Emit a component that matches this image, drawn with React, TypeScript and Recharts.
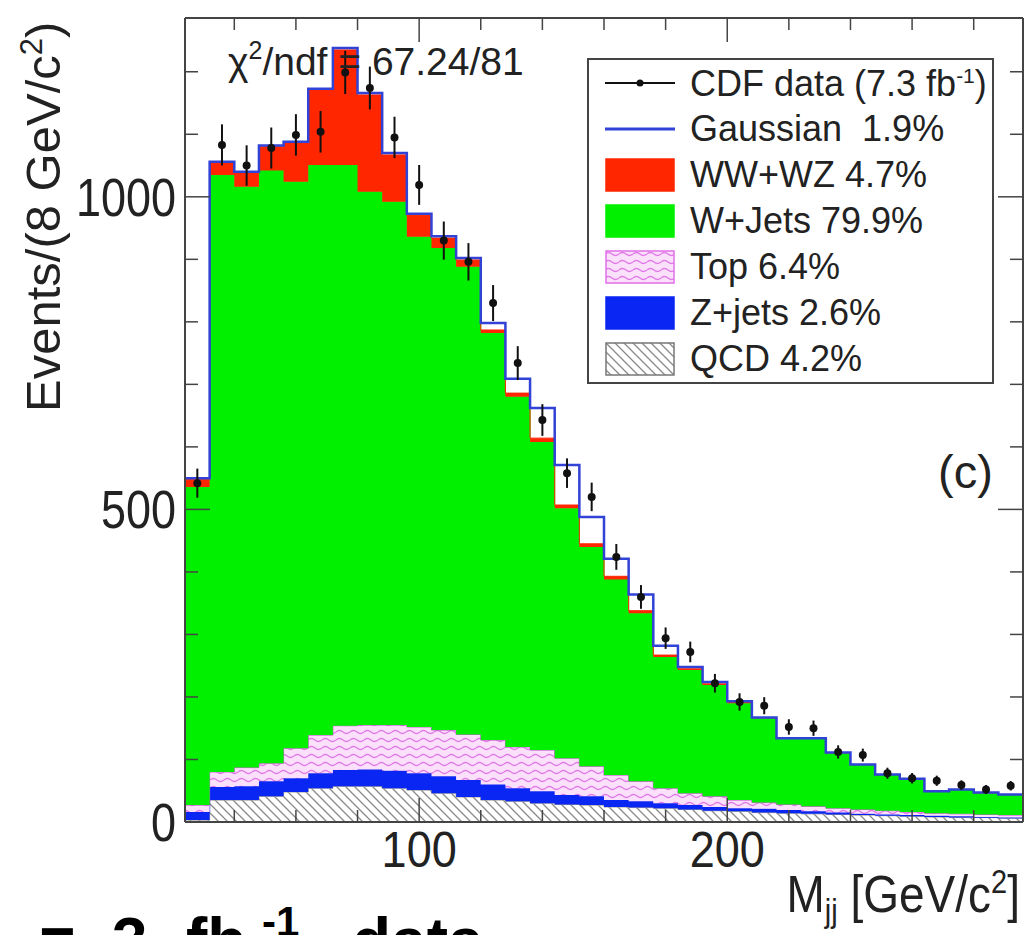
import React from "react";
import { ComposedChart, Area, Line, Scatter, ErrorBar, XAxis, YAxis } from "recharts";

const FONT = "'Liberation Sans', Arial, Helvetica, sans-serif";

// bin edges in GeV/c^2 (8 GeV bins)
const binEdges = [24, 32, 40, 48, 56, 64, 72, 80, 88, 96, 104, 112, 120, 128, 136, 144, 152, 160, 168, 176, 184, 192, 200, 208, 216, 224, 232, 240, 248, 256, 264, 272, 280, 288, 296];

// stacked backgrounds, bottom to top
const qcd = [3, 35, 35, 41, 48, 54, 57, 57, 54, 51, 46, 40, 35, 33, 30, 28, 27, 24, 23, 22, 20, 18, 17, 15, 14, 13, 12, 11, 10, 9, 8, 7, 7, 6];
const zJets = [13, 21, 22, 24, 22, 24, 26, 27, 28, 27, 27, 27, 25, 21, 19, 15, 14, 11, 10, 8, 7, 6, 5, 6, 5, 4, 3, 2, 2, 2, 2, 2, 1, 1];
const top = [11, 24, 30, 29, 48, 61, 71, 71, 73, 74, 74, 73, 71, 66, 66, 59, 48, 40, 32, 24, 19, 17, 13, 10, 9, 8, 7, 7, 6, 5, 4, 4, 4, 4];
const wJets = [509, 955, 929, 948, 906, 912, 897, 853, 837, 784, 771, 748, 651, 560, 493, 400, 351, 313, 269, 210, 197, 178, 155, 135, 105, 108, 88, 71, 57, 52, 34, 38, 34, 32];
const dibosons = [12, 19, 22, 38, 62, 120, 184, 155, 75, 34, 16, 11, 5, 6, 6, 5, 5, 5, 4, 3, 2, 2, 2, 1, 1, 1, 1, 1, 1, 1, 1, 1, 1, 1];
const gaussian = [2, 2, 2, 2, 2, 2, 3, 3, 3, 3, 3, 3, 11, 23, 48, 64, 43, 28, 26, 15, 3, 3, 1, 0, 0, 0, 0, 0, 0, 0, 0, 0, 0, 0];

// CDF data, events per bin
const cdfData = [542, 1083, 1050, 1078, 1099, 1104, 1199, 1174, 1095, 1019, 930, 896, 830, 734, 643, 558, 520, 424, 360, 294, 272, 222, 192, 186, 152, 150, 112, 107, 78, 70, 66, 59, 52, 58];

const xTicks = [40, 60, 80, 100, 120, 140, 160, 180, 200, 220, 240, 260, 280];
const xLabels = [100, 200];
const yTicks = [0, 100, 200, 300, 400, 500, 600, 700, 800, 900, 1000, 1100, 1200];
const yLabels = [0, 500, 1000];

const legendItems = [
  { key: "data", label: "CDF data (7.3 fb", sup: "-1", tail: ")" },
  { key: "gauss", label: "Gaussian  1.9%" },
  { key: "ww", label: "WW+WZ 4.7%" },
  { key: "wjets", label: "W+Jets 79.9%" },
  { key: "top", label: "Top 6.4%" },
  { key: "zjets", label: "Z+jets 2.6%" },
  { key: "qcd", label: "QCD 4.2%" },
];

const COLORS = {
  ww: "#ff2600",
  wjets: "#00f000",
  zjets: "#0a26f2",
  gauss: "#3142d6",
};

// last row repeats the last bin so the steps reach the right edge
const histRows = binEdges.map((x, i) => {
  const k = Math.min(i, qcd.length - 1);
  return {
    x,
    qcd: qcd[k],
    zJets: zJets[k],
    top: top[k],
    wJets: wJets[k],
    dibosons: dibosons[k],
    total: qcd[k] + zJets[k] + top[k] + wJets[k] + dibosons[k] + gaussian[k],
  };
});

const dataRows = cdfData.map((y, i) => ({ x: binEdges[i] + 4, y, err: Math.sqrt(y) }));

const AXIS = "#444";
const LABEL_SIZE = 45;

function BottomTick(props: any) {
  const { x, y, payload } = props;
  const major = xLabels.includes(payload.value);
  return (
    <g>
      <line x1={x} x2={x} y1={y} y2={y - (major ? 24 : 12)} stroke={AXIS} strokeWidth={1.5} />
      {major && (
        <text
          transform={`translate(${x},${y + 45}) scale(1,1.1)`}
          textAnchor="middle"
          fontSize={LABEL_SIZE}
          fontFamily={FONT}
          fill="#222"
        >
          {payload.value}
        </text>
      )}
    </g>
  );
}

function TopTick(props: any) {
  const { x, y, payload } = props;
  const major = xLabels.includes(payload.value);
  return <line x1={x} x2={x} y1={y} y2={y + (major ? 24 : 12)} stroke={AXIS} strokeWidth={1.5} />;
}

function LeftTick(props: any) {
  const { x, y, payload } = props;
  const major = yLabels.includes(payload.value);
  return (
    <g>
      <line x1={x} x2={x + (major ? 25 : 13)} y1={y} y2={y} stroke={AXIS} strokeWidth={1.5} />
      {major && (
        <text
          transform={`translate(${x - 9},${y + 19}) scale(1,1.2)`}
          textAnchor="end"
          fontSize={LABEL_SIZE}
          fontFamily={FONT}
          fill="#222"
        >
          {payload.value}
        </text>
      )}
    </g>
  );
}

function RightTick(props: any) {
  const { x, y, payload } = props;
  const major = yLabels.includes(payload.value);
  return <line x1={x} x2={x - (major ? 25 : 13)} y1={y} y2={y} stroke={AXIS} strokeWidth={1.5} />;
}

function Swatch({ kind }: { kind: string }) {
  if (kind === "data") {
    return (
      <svg width={70} height={34}>
        <line x1={0} x2={70} y1={17} y2={17} stroke="#111" strokeWidth={2} />
        <circle cx={35} cy={17} r={3.5} fill="#111" />
      </svg>
    );
  }
  if (kind === "gauss") {
    return (
      <svg width={70} height={34}>
        <line x1={0} x2={70} y1={17} y2={17} stroke={COLORS.gauss} strokeWidth={3} />
      </svg>
    );
  }
  const fill =
    kind === "ww" ? COLORS.ww : kind === "wjets" ? COLORS.wjets : kind === "zjets" ? COLORS.zjets : kind === "top" ? "url(#topWave)" : "url(#qcdHatch)";
  const stroke = kind === "top" ? "#e070e8" : kind === "qcd" ? "#777" : fill;
  return (
    <svg width={70} height={34}>
      <rect x={1} y={1} width={68} height={32} fill={fill} stroke={stroke} strokeWidth={1.5} />
    </svg>
  );
}

export default function App() {
  return (
    <div style={{ position: "absolute", left: 0, top: 0, width: 1027, height: 935, background: "#fff", overflow: "hidden" }}>
      <ComposedChart
        width={1027}
        height={935}
        data={histRows}
        margin={{ top: 0, right: 0, bottom: 0, left: 0 }}
      >
        <defs>
          <pattern id="qcdHatch" patternUnits="userSpaceOnUse" width="9" height="9">
            <rect width="9" height="9" fill="#fff" />
            <path d="M-2,-2 L11,11 M-2,7 L2,11 M7,-2 L11,2" stroke="#8a8a8a" strokeWidth="1.3" />
          </pattern>
          <pattern id="topWave" patternUnits="userSpaceOnUse" width="14" height="8">
            <rect width="14" height="8" fill="#fbe0fb" />
            <path d="M0,4 Q3.5,1 7,4 T14,4" fill="none" stroke="#e27ae8" strokeWidth="1.3" />
          </pattern>
        </defs>

        <XAxis
          xAxisId="bottom"
          dataKey="x"
          type="number"
          domain={[24, 296]}
          allowDataOverflow
          ticks={xTicks}
          interval={0}
          height={113}
          tickSize={0}
          tickMargin={0}
          tickLine={false}
          tick={<BottomTick />}
          axisLine={{ stroke: AXIS, strokeWidth: 2 }}
        />
        <XAxis
          xAxisId="top"
          orientation="top"
          dataKey="x"
          type="number"
          domain={[24, 296]}
          allowDataOverflow
          ticks={xTicks}
          interval={0}
          height={18}
          tickSize={0}
          tickMargin={0}
          tickLine={false}
          tick={<TopTick />}
          axisLine={{ stroke: AXIS, strokeWidth: 2 }}
        />
        <YAxis
          yAxisId="left"
          type="number"
          domain={[0, 1286]}
          allowDataOverflow
          ticks={yTicks}
          interval={0}
          width={185}
          tickSize={0}
          tickMargin={0}
          tickLine={false}
          tick={<LeftTick />}
          axisLine={{ stroke: AXIS, strokeWidth: 2 }}
        />
        <YAxis
          yAxisId="right"
          orientation="right"
          type="number"
          domain={[0, 1286]}
          allowDataOverflow
          ticks={yTicks}
          interval={0}
          width={4}
          tickSize={0}
          tickMargin={0}
          tickLine={false}
          tick={<RightTick />}
          axisLine={{ stroke: AXIS, strokeWidth: 2 }}
        />

        <Area xAxisId="bottom" yAxisId="left" type="stepAfter" dataKey="qcd" stackId="bg" fill="url(#qcdHatch)" fillOpacity={1} stroke="#999" strokeWidth={1} isAnimationActive={false} />
        <Area xAxisId="bottom" yAxisId="left" type="stepAfter" dataKey="zJets" stackId="bg" fill={COLORS.zjets} fillOpacity={1} stroke={COLORS.zjets} strokeWidth={1} isAnimationActive={false} />
        <Area xAxisId="bottom" yAxisId="left" type="stepAfter" dataKey="top" stackId="bg" fill="url(#topWave)" fillOpacity={1} stroke="#c85ad0" strokeWidth={1} isAnimationActive={false} />
        <Area xAxisId="bottom" yAxisId="left" type="stepAfter" dataKey="wJets" stackId="bg" fill={COLORS.wjets} fillOpacity={1} stroke={COLORS.wjets} strokeWidth={1} isAnimationActive={false} />
        <Area xAxisId="bottom" yAxisId="left" type="stepAfter" dataKey="dibosons" stackId="bg" fill={COLORS.ww} fillOpacity={1} stroke={COLORS.ww} strokeWidth={1} isAnimationActive={false} />
        <Line xAxisId="bottom" yAxisId="left" type="stepAfter" dataKey="total" stroke={COLORS.gauss} strokeWidth={2.5} dot={false} isAnimationActive={false} />
        <Scatter
          xAxisId="bottom"
          yAxisId="left"
          data={dataRows}
          dataKey="y"
          isAnimationActive={false}
          shape={(p: any) => <circle cx={p.cx} cy={p.cy} r={4} fill="#111" />}
        >
          <ErrorBar dataKey="err" direction="y" width={0} stroke="#111" strokeWidth={2} isAnimationActive={false} />
        </Scatter>
      </ComposedChart>

      {/* annotations drawn over the plot */}
      <svg width={1027} height={935} style={{ position: "absolute", left: 0, top: 0, pointerEvents: "none" }}>
        <text x={228} y={75} fontSize={39} fontFamily={FONT} fill="#222">
          χ<tspan dy={-16} fontSize={25}>2</tspan>
          <tspan dy={16}>/ndf = 67.24/81</tspan>
        </text>
        <text x={938} y={488} fontSize={47} fontFamily={FONT} fill="#222">(c)</text>
        <text transform="translate(60,412) rotate(-90)" fontSize={49} fontFamily={FONT} fill="#222">
          Events/(8 GeV/c<tspan dy={-18} fontSize={31}>2</tspan>
          <tspan dy={18}>)</tspan>
        </text>
        <text transform="translate(1020,912) scale(1,1.12)" textAnchor="end" fontSize={46} fontFamily={FONT} fill="#222">
          M<tspan dy={9} fontSize={29}>jj</tspan>
          <tspan dy={-9}> [GeV/c</tspan>
          <tspan dy={-17} fontSize={29}>2</tspan>
          <tspan dy={17}>]</tspan>
        </text>
        {/* next slide line, mostly below the picture's edge */}
        <g fontFamily={FONT} fontWeight="bold" fill="#000">
          <text x={38} y={963} fontSize={64}>■</text>
          <text x={112} y={963} fontSize={64}>3</text>
          <text x={186} y={963} fontSize={64}>fb</text>
          <text x={262} y={936} fontSize={42}>-1</text>
          <text x={352} y={963} fontSize={64}>data</text>
        </g>
      </svg>

      <div
        style={{
          position: "absolute",
          left: 587,
          top: 58,
          width: 403,
          height: 322,
          border: "2px solid #444",
          background: "#fff",
          fontFamily: FONT,
          fontSize: 36,
          color: "#222",
          boxSizing: "content-box",
        }}
      >
        {legendItems.map((it) => (
          <div key={it.key} style={{ display: "flex", alignItems: "center", height: 46 }}>
            <div style={{ marginLeft: 16, width: 70, height: 34 }}>
              <Swatch kind={it.key} />
            </div>
            <div style={{ marginLeft: 15, whiteSpace: "pre", lineHeight: 1 }}>
              {it.label}
              {it.sup && <sup style={{ fontSize: 21 }}>{it.sup}</sup>}
              {it.tail}
            </div>
          </div>
        ))}
      </div>
    </div>
  );
}
